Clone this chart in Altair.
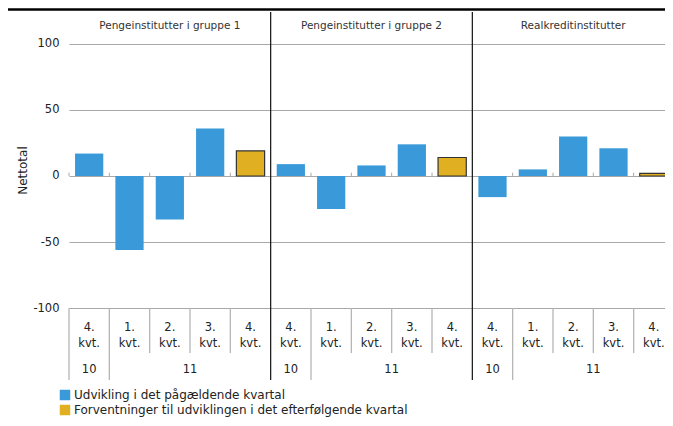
import altair as alt
import pandas as pd

groups = ["Pengeinstitutter i gruppe 1", "Pengeinstitutter i gruppe 2", "Realkreditinstitutter"]
quarter_labels = ["4.", "1.", "2.", "3.", "4."]
year_labels = ["10", "11"]
year_spans = [1, 4]
g1_values = [17, -56, -33, 36, 19]
g2_values = [9, -25, 8, 24, 14]
g3_values = [-16, 5, 30, 21, 2]
series_names = ["Udvikling i det pågældende kvartal",
                "Forventninger til udviklingen i det efterfølgende kvartal"]
series_of_quarter = [0, 0, 0, 0, 1]
colors = ["#3A9AD9", "#E0B022"]
y_ticks = [-100, -50, 0, 50, 100]

FONT = "DejaVu Sans"
W, H = 605, 368

# bars
rows = []
for g, vals in enumerate([g1_values, g2_values, g3_values]):
    for i, v in enumerate(vals):
        rows.append({"pos": g * 5 + i, "value": v,
                     "series": series_names[series_of_quarter[i]],
                     "q": quarter_labels[i]})
bars = pd.DataFrame(rows)

# year labels
yrows = []
for g in range(len(groups)):
    start = g * 5
    for lab, span in zip(year_labels, year_spans):
        yrows.append({"center": start + span / 2, "label": lab})
        start += span
years_df = pd.DataFrame(yrows)

# group titles
groups_df = pd.DataFrame({"center": [g * 5 + 2.5 for g in range(len(groups))], "label": groups})

# boundaries
brows = []
for p in range(15):
    if p % 5 == 0 and p > 0:
        kind = "group"
    elif p % 5 in (0, 1):
        kind = "year"
    else:
        kind = "inner"
    brows.append({"pos": p, "kind": kind})
bounds = pd.DataFrame(brows)

xs = alt.Scale(domain=[0, 15], nice=False, zero=False)
ys = alt.Scale(domain=[-154.545, 124.242], nice=False, zero=False)
cs = alt.Scale(domain=series_names, range=colors)

base_bars = alt.Chart(bars).transform_calculate(
    x0="datum.pos + 0.15", x1="datum.pos + 0.85"
)

legend = alt.Legend(title=None, orient="none", legendX=-10, legendY=377,
                    symbolType="square", symbolSize=110, symbolStrokeWidth=0,
                    labelFontSize=12, labelFont=FONT, labelColor="#222",
                    labelOffset=3, rowPadding=3, padding=0, labelLimit=600)

blue = base_bars.transform_filter(alt.datum.series == series_names[0]).mark_bar().encode(
    x=alt.X("x0:Q", scale=xs, axis=None),
    x2="x1:Q",
    y=alt.Y("value:Q", scale=ys,
            axis=alt.Axis(values=y_ticks, grid=True, gridColor="#a8a8a8", ticks=False,
                          domain=False, labelFontSize=11.5, labelFont=FONT, labelColor="#222",
                          labelPadding=10, labelExpr="'' + datum.value",
                          title="Nettotal", titleFont=FONT,
                          titleFontSize=12, titleFontWeight="normal", titleColor="#222",
                          titleX=-47, titleY=158, titleBaseline="middle", titleAngle=270)),
    y2=alt.datum(0),
    color=alt.Color("series:N", scale=cs, legend=legend),
)

yellow = base_bars.transform_filter(alt.datum.series == series_names[1]).mark_bar(
    stroke="#333333", strokeWidth=1.2
).encode(
    x=alt.X("x0:Q", scale=xs),
    x2="x1:Q",
    y=alt.Y("value:Q", scale=ys),
    y2=alt.datum(0),
    color=alt.Color("series:N", scale=cs, legend=legend),
)

zero_ticks = alt.Chart(bounds).transform_filter(alt.datum.kind != "group").mark_rule(
    color="#a8a8a8", strokeWidth=1
).encode(x=alt.X("pos:Q", scale=xs), y=alt.datum(0), y2=alt.datum(2.5))

group_lines = alt.Chart(bounds).transform_filter(alt.datum.kind == "group").mark_rule(
    color="#111111", strokeWidth=1.2
).encode(x=alt.X("pos:Q", scale=xs), y=alt.value(0), y2=alt.value(H))

year_lines = alt.Chart(bounds).transform_filter(alt.datum.kind == "year").mark_rule(
    color="#b5b5b5", strokeWidth=1.3
).encode(x=alt.X("pos:Q", scale=xs), y=alt.value(296), y2=alt.value(H))

inner_lines = alt.Chart(bounds).transform_filter(alt.datum.kind == "inner").mark_rule(
    color="#b5b5b5", strokeWidth=1.3
).encode(x=alt.X("pos:Q", scale=xs), y=alt.value(296), y2=alt.value(341))

txt = dict(font=FONT, fontSize=11.5, color="#222", align="center", baseline="middle")

q_text = alt.Chart(bars).transform_calculate(c="datum.pos + 0.5").mark_text(**txt).encode(
    x=alt.X("c:Q", scale=xs), y=alt.value(316), text="q:N")
kvt_text = alt.Chart(bars).transform_calculate(c="datum.pos + 0.5", k="'kvt.'").mark_text(**txt).encode(
    x=alt.X("c:Q", scale=xs), y=alt.value(332), text="k:N")
year_text = alt.Chart(years_df).mark_text(**txt).encode(
    x=alt.X("center:Q", scale=xs), y=alt.value(358), text="label:N")
group_text = alt.Chart(groups_df).mark_text(font=FONT, fontSize=10.5, color="#333",
                                            align="center", baseline="middle").encode(
    x=alt.X("center:Q", scale=xs), y=alt.value(14), text="label:N")

top_line = alt.Chart(pd.DataFrame({"a": [0]})).mark_rule(color="black", strokeWidth=2.6).encode(
    x=alt.value(-61), x2=alt.value(W), y=alt.value(-2.5))

chart = alt.layer(
    blue, yellow, zero_ticks, year_lines, inner_lines, group_lines,
    q_text, kvt_text, year_text, group_text, top_line
).properties(
    width=W, height=H,
    autosize=alt.AutoSizeParams(type="none"),
    padding={"left": 61, "top": 4, "right": -9, "bottom": 38},
).configure_view(stroke=None)

chart.save("out.html", embed_options={"renderer": "svg", "actions": False})
